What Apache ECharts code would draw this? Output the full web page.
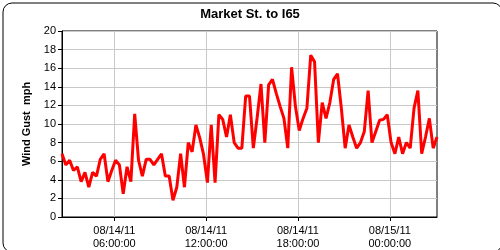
<!DOCTYPE html>
<html>
<head>
<meta charset="utf-8">
<script src="https://cdn.jsdelivr.net/npm/echarts@6/dist/echarts.min.js"></script>
<style>
html,body{margin:0;padding:0;background:#fff;}
#c{width:500px;height:250px;}
</style>
</head>
<body>
<div id="c"></div>
<script>
// Data: wind gust (mph), one reading every 15 minutes from 2011-08-14 02:35
const titleText = "Market St. to I65";
const yAxisName = "Wind Gust  mph";
const startTime = Date.UTC(2011, 7, 14, 2, 35);
const stepMinutes = 15;
const gustValues = [
  6.8, 5.6, 6.1, 5.0, 5.4, 3.8, 4.8, 3.2, 4.8, 4.4,
  6.2, 6.8, 3.8, 5.0, 6.1, 5.6, 2.5, 5.4, 3.8, 11.1,
  6.1, 4.4, 6.2, 6.2, 5.6, 6.2, 6.8, 4.4, 4.4, 1.8,
  3.2, 6.8, 3.2, 8.0, 7.0, 9.9, 8.5, 6.7, 3.7, 9.9,
  3.7, 11.0, 10.5, 8.6, 11.0, 8.0, 7.4, 7.4, 13.0, 13.0,
  7.4, 10.7, 14.3, 8.0, 14.2, 14.8, 13.3, 11.9, 10.6, 7.4,
  16.1, 11.9, 9.3, 10.6, 11.7, 17.4, 16.7, 8.0, 12.3, 10.6,
  12.3, 14.8, 15.4, 11.7, 7.4, 9.9, 8.6, 7.4, 8.0, 9.2,
  13.6, 8.0, 9.2, 10.4, 10.5, 11.0, 8.0, 6.8, 8.6, 6.8,
  8.0, 7.4, 11.7, 13.6, 6.8, 8.6, 10.6, 7.4, 8.6
];
const xTickTimes = [
  Date.UTC(2011, 7, 14, 6, 0),
  Date.UTC(2011, 7, 14, 12, 0),
  Date.UTC(2011, 7, 14, 18, 0),
  Date.UTC(2011, 7, 15, 0, 0)
];
const yTicks = [0, 2, 4, 6, 8, 10, 12, 14, 16, 18, 20];

const seriesData = gustValues.map((v, i) => [startTime + i * stepMinutes * 60000, v]);
const endTime = seriesData[seriesData.length - 1][0];

function pad(n){ return (n < 10 ? '0' : '') + n; }
function fmt(ms){
  const d = new Date(ms);
  return pad(d.getUTCMonth() + 1) + '/' + pad(d.getUTCDate()) + '/' + pad(d.getUTCFullYear() % 100) +
    '\n' + pad(d.getUTCHours()) + ':' + pad(d.getUTCMinutes()) + ':' + pad(d.getUTCSeconds());
}

const font = '"Liberation Sans", Arial, sans-serif';
const chart = echarts.init(document.getElementById('c'), null, {renderer: 'canvas'});
chart.setOption({
  animation: false,
  backgroundColor: '#fff',
  title: {
    text: titleText, left: 'center', top: 3,
    textStyle: {fontFamily: font, fontSize: 13, fontWeight: 'bold', color: '#000'}
  },
  grid: {left: 62, right: 63, top: 31, bottom: 32, show: true, borderColor: '#000', borderWidth: 1},
  xAxis: {
    type: 'value',
    min: startTime, max: endTime,
    axisLine: {show: true, lineStyle: {color: '#000', width: 1}},
    axisTick: {show: true, length: 4, inside: false, customValues: xTickTimes, lineStyle: {color: '#000'}},
    axisLabel: {
      customValues: xTickTimes, formatter: fmt, margin: 7,
      fontFamily: font, fontSize: 11, color: '#000', lineHeight: 13
    },
    splitLine: {show: true, lineStyle: {color: '#c8c8c8', width: 1}}
  },
  yAxis: {
    type: 'value', min: 0, max: 20, interval: 2,
    name: yAxisName, nameLocation: 'middle', nameGap: 25,
    nameTextStyle: {fontFamily: font, fontSize: 11, fontWeight: 'bold', color: '#000'},
    axisLine: {show: true, lineStyle: {color: '#000', width: 1}},
    axisTick: {show: true, length: 4, lineStyle: {color: '#000'}},
    axisLabel: {fontFamily: font, fontSize: 11, color: '#000', margin: 6},
    splitLine: {show: true, lineStyle: {color: '#c8c8c8', width: 1}}
  },
  graphic: [{
    type: 'rect', left: 0.5, top: 0.5, z: 100, silent: true,
    shape: {width: 499, height: 249, r: 9},
    style: {fill: 'none', stroke: '#000', lineWidth: 1}
  }],
  series: [{
    type: 'line', data: seriesData, showSymbol: false, symbol: 'none',
    lineStyle: {color: '#ff0000', width: 3}, z: 3
  }]
});
</script>
</body>
</html>
